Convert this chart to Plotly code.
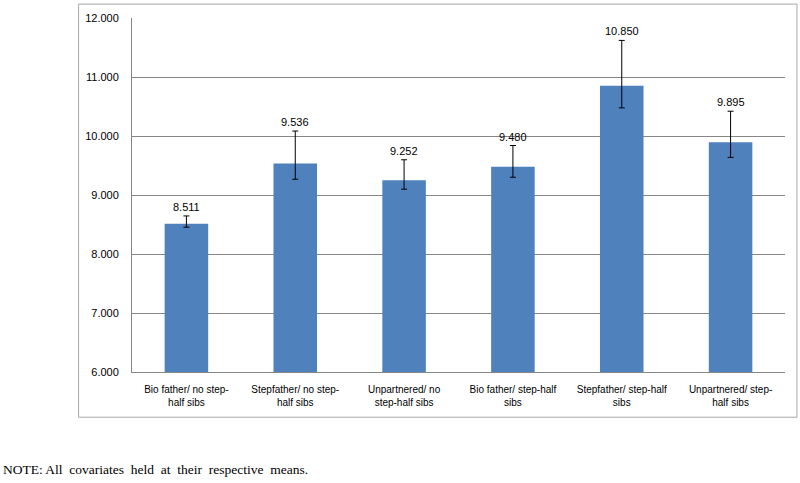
import plotly.graph_objects as go

categories = [
    "Bio father/ no step-<br>half sibs",
    "Stepfather/ no step-<br>half sibs",
    "Unpartnered/ no<br>step-half sibs",
    "Bio father/ step-half<br>sibs",
    "Stepfather/ step-half<br>sibs",
    "Unpartnered/ step-<br>half sibs",
]
means = [8.511, 9.536, 9.252, 9.480, 10.850, 9.895]
ci_upper = [8.645, 10.084, 9.597, 9.839, 11.620, 10.420]
ci_lower = [8.454, 9.267, 9.099, 9.301, 10.477, 9.637]
y_ticks = [6, 7, 8, 9, 10, 11, 12]
y_tick_labels = ["6.000", "7.000", "8.000", "9.000", "10.000", "11.000", "12.000"]
note = "NOTE: All&nbsp; covariates&nbsp; held&nbsp; at&nbsp; their&nbsp; respective&nbsp; means."

FONT = "Liberation Sans, Arial, sans-serif"

err_plus = [u - m for u, m in zip(ci_upper, means)]
err_minus = [m - l for m, l in zip(means, ci_lower)]

fig = go.Figure()
fig.add_trace(go.Bar(
    x=categories,
    y=means,
    marker=dict(color="#4F81BD", line=dict(width=0)),
    width=0.4,
    error_y=dict(type="data", symmetric=False, array=err_plus, arrayminus=err_minus,
                 color="#000000", thickness=1, width=3),
    showlegend=False,
    hoverinfo="skip",
))

for c, m, u in zip(categories, means, ci_upper):
    fig.add_annotation(x=c, y=u, text=f"{m:.3f}", showarrow=False,
                       yanchor="bottom", yshift=1,
                       font=dict(family=FONT, size=11, color="#000000"))

PW, PH = 654.0, 357.0
fig.add_annotation(xref="paper", yref="paper", x=-131.0 / PW, y=-(470 - 371.7) / PH,
                   xanchor="left", yanchor="middle", showarrow=False,
                   text=note,
                   font=dict(family="Liberation Serif, Times New Roman, serif", size=13.5, color="#000000"))

# chart frame
fig.add_shape(type="rect", xref="paper", yref="paper",
              x0=-(131.5 - 78) / PW, x1=1 + (797.5 - 785.5) / PW,
              y0=-(417.3 - 371.7) / PH, y1=1 + (14.7 - 0.7) / PH,
              line=dict(color="#A6A6A6", width=1), fillcolor="rgba(0,0,0,0)")

fig.update_layout(
    width=800, height=483,
    margin=dict(l=131.5, r=14.5, t=14.7, b=111.3),
    paper_bgcolor="white", plot_bgcolor="white",
    bargap=0.6,
    font=dict(family=FONT, size=11, color="#000000"),
)
fig.update_xaxes(
    showline=True, linecolor="#868686", linewidth=1,
    ticks="outside", ticklen=8, tickcolor="rgba(0,0,0,0)",
    showgrid=False, tickfont=dict(family=FONT, size=10),
)
fig.update_yaxes(
    range=[6, 12], tickvals=y_ticks, ticktext=y_tick_labels,
    showgrid=True, gridcolor="#868686", gridwidth=1,
    showline=True, linecolor="#868686", linewidth=1,
    ticks="outside", ticklen=10, tickcolor="rgba(0,0,0,0)",
    tickfont=dict(family=FONT, size=11), zeroline=False,
)

fig.write_html("out.html", config={"displayModeBar": False},
               post_script="document.body.style.margin='0';")
